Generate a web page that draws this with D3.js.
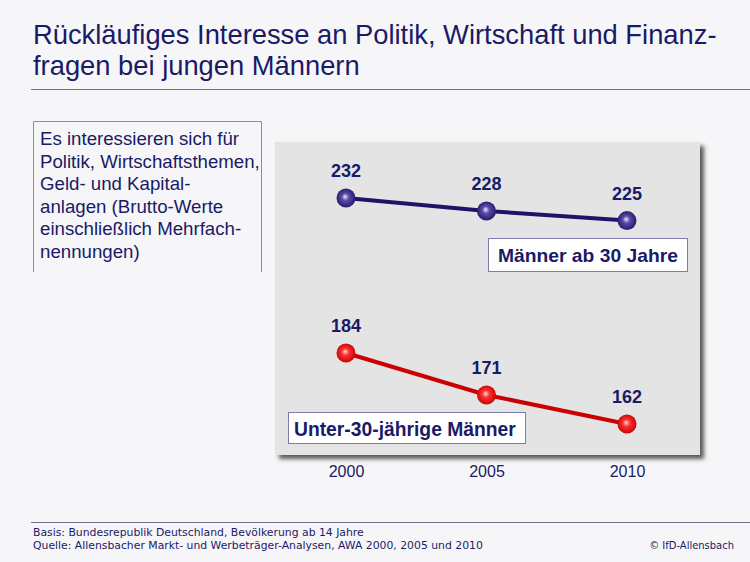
<!DOCTYPE html>
<html>
<head>
<meta charset="utf-8">
<script src="https://cdn.jsdelivr.net/npm/d3@7"></script>
<style>
  body { margin: 0; background: #f6f6f8; }
  svg { display: block; }
</style>
</head>
<body>
<svg id="chart"></svg>
<script>
const W = 750, H = 562;

// data
const years = [2000, 2005, 2010];
const maennerAb30 = [232, 228, 225];
const unter30 = [184, 171, 162];
const seriesNames = ["Männer ab 30 Jahre", "Unter-30-jährige Männer"];
const titleLines = ["Rückläufiges Interesse an Politik, Wirtschaft und Finanz-", "fragen bei jungen Männern"];
const noteLines = ["Es interessieren sich für", "Politik, Wirtschaftsthemen,", "Geld- und Kapital-", "anlagen (Brutto-Werte", "einschließlich Mehrfach-", "nennungen)"];
const footLines = ["Basis: Bundesrepublik Deutschland, Bevölkerung ab 14 Jahre", "Quelle: Allensbacher Markt- und Werbeträger-Analysen, AWA 2000, 2005 und 2010"];
const copyright = "© IfD-Allensbach";

const FONT = "'Liberation Sans', Arial, sans-serif";
const FOOT_FONT = "'DejaVu Sans', sans-serif";
const NAVY = "#1a1a66";

const svg = d3.select("#chart").attr("width", W).attr("height", H);

// scale a text element so it spans a given width
function fitWidth(sel, w) {
  const size = parseFloat(sel.attr("font-size"));
  const len = sel.node().getComputedTextLength();
  const s = size * w / len;
  sel.attr("font-size", s);
  return s;
}

const defs = svg.append("defs");

const shadow = defs.append("filter").attr("id", "shadow")
  .attr("x", "-5%").attr("y", "-5%").attr("width", "115%").attr("height", "115%");
shadow.append("feGaussianBlur").attr("in", "SourceAlpha").attr("stdDeviation", 2).attr("result", "blur");
shadow.append("feOffset").attr("in", "blur").attr("dx", 4).attr("dy", 4).attr("result", "off");
shadow.append("feFlood").attr("flood-color", "#333").attr("flood-opacity", 0.8).attr("result", "col");
shadow.append("feComposite").attr("in", "col").attr("in2", "off").attr("operator", "in").attr("result", "sh");
const merge = shadow.append("feMerge");
merge.append("feMergeNode").attr("in", "sh");
merge.append("feMergeNode").attr("in", "SourceGraphic");

function ballGradient(id, light, mid, dark) {
  const g = defs.append("radialGradient").attr("id", id)
    .attr("cx", "50%").attr("cy", "50%").attr("r", "55%")
    .attr("fx", "45%").attr("fy", "42%");
  g.append("stop").attr("offset", "0%").attr("stop-color", light);
  g.append("stop").attr("offset", "35%").attr("stop-color", mid);
  g.append("stop").attr("offset", "100%").attr("stop-color", dark);
}
ballGradient("ballBlue", "#ece6ff", "#5a4aa8", "#1e1566");
ballGradient("ballRed", "#ffe0e0", "#ff3030", "#c00000");

// background
svg.append("rect").attr("width", W).attr("height", H).attr("fill", "#f6f6f8");

// title
const t1 = svg.append("text").attr("x", 33).attr("y", 44)
  .attr("font-family", FONT).attr("font-size", 24).attr("fill", NAVY)
  .text(titleLines[0]);
const titleSize = fitWidth(t1, 684);
svg.append("text").attr("x", 33).attr("y", 75)
  .attr("font-family", FONT).attr("font-size", titleSize).attr("fill", NAVY)
  .text(titleLines[1]);

svg.append("line").attr("x1", 31).attr("x2", W).attr("y1", 89.5).attr("y2", 89.5)
  .attr("stroke", "#6e6e8e").attr("stroke-width", 1);

// note box (sides and top only)
svg.append("path")
  .attr("d", "M33.5,272 V121.5 H261.5 V272")
  .attr("fill", "none").attr("stroke", "#8a8aa8").attr("stroke-width", 1);

const note = svg.append("g").attr("font-family", FONT).attr("fill", NAVY);
const noteRef = note.append("text").attr("x", 40).attr("y", 145 + 22.5)
  .attr("font-size", 16).text(noteLines[1]);
const noteSize = fitWidth(noteRef, 220);
noteRef.remove();
note.selectAll("text.note").data(noteLines).join("text")
  .attr("class", "note")
  .attr("x", 40)
  .attr("y", (d, i) => 145 + i * 22.5)
  .attr("font-size", noteSize)
  .text(d => d);

// plot panel
svg.append("rect").attr("x", 275).attr("y", 142).attr("width", 425).attr("height", 313)
  .attr("fill", "#e4e4e5").attr("filter", "url(#shadow)");

const x = d3.scaleLinear().domain([2000, 2010]).range([346, 627]);
const y = d3.scaleLinear().domain([152, 250]).range([456.3, 139.9]);

const line = d3.line().x(d => x(d[0])).y(d => y(d[1]));

const series = [
  { name: seriesNames[0], values: maennerAb30, stroke: "#1c1466", ball: "url(#ballBlue)" },
  { name: seriesNames[1], values: unter30, stroke: "#cc0000", ball: "url(#ballRed)" }
];

series.forEach(s => {
  const pts = years.map((yr, i) => [yr, s.values[i]]);
  svg.append("path").attr("d", line(pts))
    .attr("fill", "none").attr("stroke", s.stroke).attr("stroke-width", 4);
  svg.selectAll(null).data(pts).join("circle")
    .attr("cx", d => x(d[0])).attr("cy", d => y(d[1])).attr("r", 9.5)
    .attr("fill", s.ball);
  svg.selectAll(null).data(pts).join("text")
    .attr("x", d => x(d[0])).attr("y", d => y(d[1]) - 21)
    .attr("text-anchor", "middle")
    .attr("font-family", FONT).attr("font-weight", "bold").attr("font-size", 18)
    .attr("fill", NAVY)
    .text(d => d[1]);
});

// series labels
function labelBox(text, bx, by, bw, bh, tx, ty, tw) {
  svg.append("rect").attr("x", bx + 0.5).attr("y", by + 0.5).attr("width", bw).attr("height", bh)
    .attr("fill", "#ffffff").attr("stroke", "#7c7cae").attr("stroke-width", 1);
  const t = svg.append("text").attr("x", tx).attr("y", ty)
    .attr("font-family", FONT).attr("font-weight", "bold").attr("font-size", 18)
    .attr("fill", NAVY).text(text);
  fitWidth(t, tw);
}
labelBox(seriesNames[0], 488, 238, 199, 33, 498, 262, 180);
labelBox(seriesNames[1], 288, 412, 237, 31, 294, 436, 222);

// x axis
const xAxis = svg.append("g").attr("transform", "translate(0,466)")
  .call(d3.axisBottom(x).tickValues(years).tickFormat(d3.format("d")).tickSize(0).tickPadding(0));
xAxis.select(".domain").remove();
xAxis.selectAll("text")
  .attr("font-family", FONT).attr("font-size", 16).attr("fill", NAVY);

// footer
svg.append("line").attr("x1", 31).attr("x2", W).attr("y1", 522.5).attr("y2", 522.5)
  .attr("stroke", "#6e6e8e").attr("stroke-width", 1);

const f2 = svg.append("text").attr("x", 33).attr("y", 548.5)
  .attr("font-family", FOOT_FONT).attr("font-size", 10).attr("fill", NAVY)
  .text(footLines[1]);
const footSize = fitWidth(f2, 450);
svg.append("text").attr("x", 33).attr("y", 535.5)
  .attr("font-family", FOOT_FONT).attr("font-size", footSize).attr("fill", NAVY)
  .text(footLines[0]);
svg.append("text").attr("x", 734).attr("y", 548.5).attr("text-anchor", "end")
  .attr("font-family", FOOT_FONT).attr("font-size", footSize * 0.92).attr("fill", NAVY)
  .text(copyright);
</script>
</body>
</html>
